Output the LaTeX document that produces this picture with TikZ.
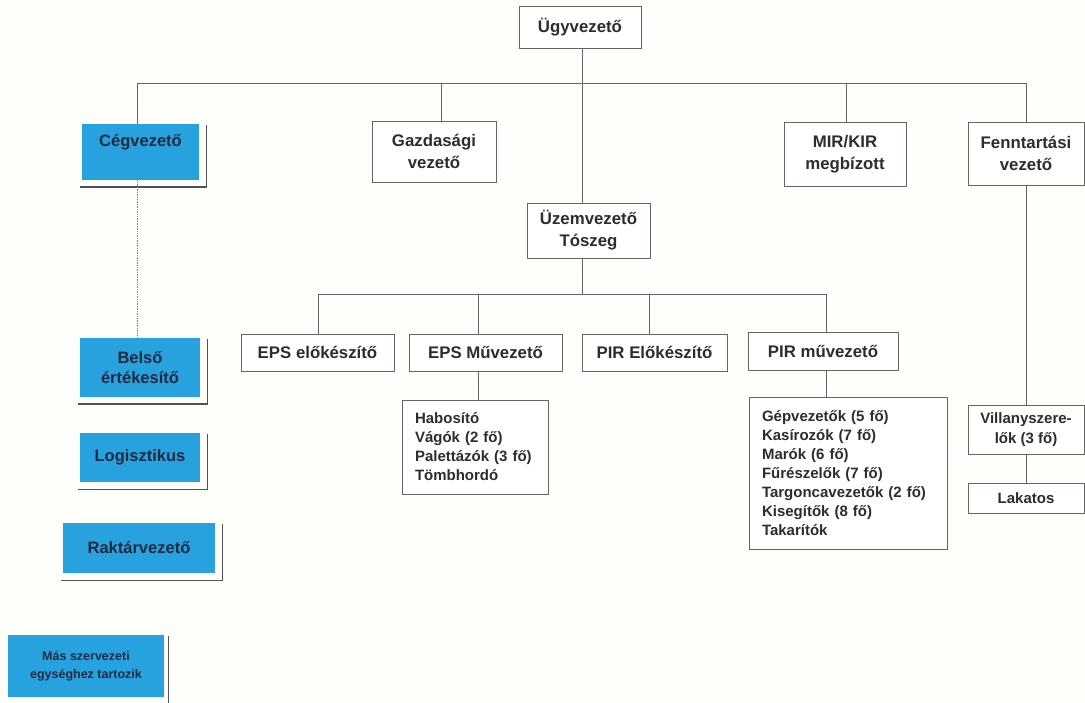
\documentclass[tikz,border=0pt]{standalone}
\usepackage{fontspec}
\setmainfont{Liberation Sans}
\usetikzlibrary{calc}
\definecolor{bluefill}{RGB}{40,162,222}
\definecolor{bluetext}{RGB}{32,42,66}
\definecolor{boxtext}{RGB}{45,45,45}
\definecolor{linegray}{RGB}{100,100,100}
\definecolor{shadowgray}{RGB}{80,80,88}
\definecolor{paper}{RGB}{254,254,251}
\tikzset{
  wbox/.style={draw=linegray, line width=0.9pt, fill=white, text=boxtext,
    font=\bfseries\fontsize{16.8}{22}\selectfont, align=center, inner sep=0pt},
  lbox/.style={draw=linegray, line width=0.9pt, fill=white, text=boxtext,
    font=\bfseries\fontsize{15}{19}\selectfont, align=left, inner xsep=13pt, inner ysep=0pt},
  bbox/.style={fill=bluefill, draw=none, text=bluetext,
    font=\bfseries\fontsize{16.5}{20}\selectfont, align=center, inner sep=0pt},
  conn/.style={draw=linegray, line width=0.9pt},
  dotconn/.style={draw=linegray!80, line width=0.7pt, densely dotted},
  shadowline/.style={draw=shadowgray, line width=1.4pt}
}
\newcommand\boxshadow[1]{\draw[shadowline] ($(#1.south west)+(-2,7)$) -- ($(#1.south east)+(7,7)$) -- ($(#1.north east)+(7,1)$);}
\begin{document}
\begin{tikzpicture}[x=1pt,y=-1pt]
\fill[paper] (0,0) rectangle (1085,703);
\useasboundingbox (0,0) rectangle (1085,703);

% bus coordinates
\coordinate (b1L) at (137,83);
\coordinate (t1) at (582,83);
\coordinate (t2) at (441,83);
\coordinate (t3) at (846,83);
\coordinate (b1R) at (1026,83);
\coordinate (e1) at (318,294);
\coordinate (e2) at (478,294);
\coordinate (e3) at (649,294);
\coordinate (e4) at (826,294);
\coordinate (b2) at (582,294);

% nodes
\node[wbox, minimum width=122pt, minimum height=42pt] (ugy) at (580,27) {Ügyvezető};
\node[wbox, minimum width=124pt, minimum height=61pt] (gazd) at (434,151.5) {Gazdasági\\vezető};
\node[wbox, minimum width=123pt, minimum height=55pt] (uzem) at (588.5,230.5) {Üzemvezető\\Tószeg};
\node[wbox, minimum width=122pt, minimum height=64pt] (mir) at (845,154) {MIR/KIR\\megbízott};
\node[wbox, minimum width=116pt, minimum height=63pt] (fenn) at (1026,153.5) {Fenntartási\\vezető};

\node[wbox, minimum width=153pt, minimum height=37pt] (epse) at (317.5,352.5) {EPS előkészítő};
\node[wbox, minimum width=153pt, minimum height=37pt] (epsm) at (485.5,352.5) {EPS Művezető};
\node[wbox, minimum width=145pt, minimum height=37pt] (pire) at (654.5,352.5) {PIR Előkészítő};
\node[wbox, minimum width=150pt, minimum height=38pt] (pirm) at (823,351) {PIR művezető};

\node[lbox, text width=120pt, minimum height=94pt] (hab) at (475,447) {Habosító\\Vágók (2 fő)\\Palettázók (3 fő)\\Tömbhordó};
\node[lbox, text width=172pt, minimum height=152pt] (gep) at (848,473) {Gépvezetők (5 fő)\\Kasírozók (7 fő)\\Marók (6 fő)\\Fűrészelők (7 fő)\\Targoncavezetők (2 fő)\\Kisegítők (8 fő)\\Takarítók};

\node[wbox, font=\bfseries\fontsize{15}{20}\selectfont, minimum width=116pt, minimum height=49pt] (vill) at (1026,429.5) {Villanyszere-\\lők (3 fő)};
\node[wbox, font=\bfseries\fontsize{15}{20}\selectfont, minimum width=116pt, minimum height=30pt] (lak) at (1026,498) {Lakatos};

% blue boxes
\node[bbox, minimum width=117pt, minimum height=56pt] (ceg) at (140.5,152) {\raisebox{5pt}[0pt][0pt]{Cégvezető}};
\node[bbox, minimum width=120pt, minimum height=59pt] (bels) at (140,367.5) {Belső\\értékesítő};
\node[bbox, minimum width=120pt, minimum height=49pt] (logi) at (140,457.5) {Logisztikus};
\node[bbox, minimum width=152pt, minimum height=50pt] (rakt) at (139,548) {Raktárvezető};
\node[bbox, font=\bfseries\fontsize{12.5}{18}\selectfont, minimum width=156pt, minimum height=62pt] (mas) at (86,666) {Más szervezeti\\egységhez tartozik};

\boxshadow{ceg}
\boxshadow{bels}
\boxshadow{logi}
\boxshadow{rakt}
\draw[shadowline] ($(mas.north east)+(4,1)$) -- ($(mas.south east)+(4,7)$);

% connectors
\draw[conn] (ugy.south -| t1) -- (uzem.north -| t1);
\draw[conn] (b1L) -- (b1R);
\draw[conn] (b1L) -- (ceg.north -| b1L);
\draw[conn] (t2) -- (gazd.north -| t2);
\draw[conn] (t3) -- (mir.north -| t3);
\draw[conn] (b1R) -- (fenn.north);
\draw[conn] (fenn.south) -- (vill.north);
\draw[conn] (vill.south) -- (lak.north);
\draw[dotconn] (ceg.south -| b1L) -- (bels.north -| b1L);

\draw[conn] (uzem.south -| b2) -- (b2);
\draw[conn] (e1) -- (e4);
\draw[conn] (e1) -- (epse.north -| e1);
\draw[conn] (e2) -- (epsm.north -| e2);
\draw[conn] (e3) -- (pire.north -| e3);
\draw[conn] (e4) -- (pirm.north -| e4);
\draw[conn] (epsm.south -| e2) -- (hab.north -| e2);
\draw[conn] (pirm.south -| e4) -- (gep.north -| e4);
\end{tikzpicture}
\end{document}
